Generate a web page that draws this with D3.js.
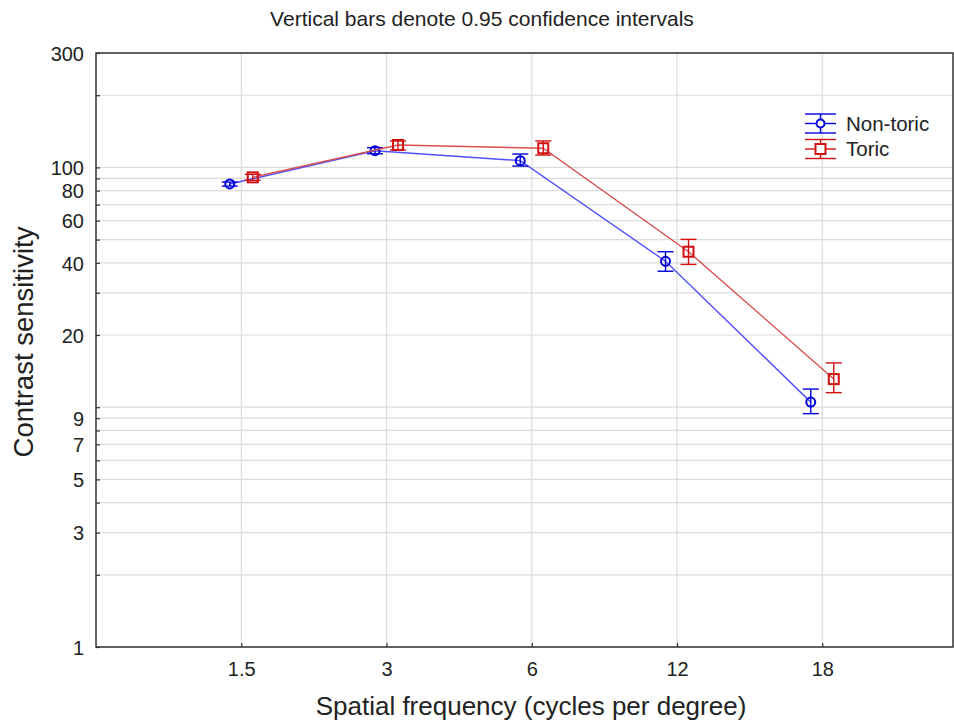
<!DOCTYPE html>
<html><head><meta charset="utf-8">
<script src="https://cdn.jsdelivr.net/npm/d3@7"></script>
<style>body{margin:0;background:#fff;}svg{display:block;font-family:"Liberation Sans",Arial,sans-serif;}</style>
</head><body><div id="chart"></div>
<script>
const categories = ["1.5","3","6","12","18"];
const nonToric = [85.3, 117.4, 106.7, 40.6, 10.5];
const nonToricLow = [83.6, 114.0, 101.3, 36.9, 9.4];
const nonToricHigh = [86.9, 120.9, 113.7, 44.5, 11.9];
const toric = [90.9, 124.0, 120.2, 44.5, 13.1];
const toricLow = [88.4, 118.2, 112.6, 39.4, 11.5];
const toricHigh = [93.6, 128.9, 128.9, 50.1, 15.3];
const yGrid = [1,2,3,4,5,6,7,8,9,10,20,30,40,50,60,70,80,90,100,200,300];
const yLabels = [1,3,5,7,9,20,40,60,80,100,300];
const seriesNames = ["Non-toric","Toric"];

(function(){
const W=954,H=721, pl=96, pr=953, pt=53, pb=647;
const svg=d3.select("#chart").append("svg").attr("width",W).attr("height",H);
const x=d3.scaleLinear().domain([0,5.9]).range([pl,pr]);
const y=d3.scaleLog().domain([1,300]).range([pb,pt]);

// grid
svg.append("g").selectAll("line").data(yGrid).join("line")
 .attr("x1",pl).attr("x2",pr).attr("y1",d=>y(d)).attr("y2",d=>y(d))
 .attr("stroke","#dcdcdc").attr("stroke-width",1.2);
svg.append("g").selectAll("line").data(categories).join("line")
 .attr("x1",(d,i)=>x(i+1)).attr("x2",(d,i)=>x(i+1)).attr("y1",pt).attr("y2",pb)
 .attr("stroke","#dcdcdc").attr("stroke-width",1.2);

// axes
const yAxis=d3.axisLeft(y).tickValues(yGrid).tickSize(-4).tickPadding(12)
 .tickFormat(d=>yLabels.includes(d)?String(d):"");
const gy=svg.append("g").attr("transform",`translate(${pl},0)`).call(yAxis);
const xAxis=d3.axisBottom(x).tickValues([1,2,3,4,5]).tickSize(-4).tickPadding(15)
 .tickFormat(d=>categories[d-1]);
const gx=svg.append("g").attr("transform",`translate(0,${pb})`).call(xAxis);
[gx,gy].forEach(g=>{
 g.select(".domain").remove();
 g.selectAll(".tick line").attr("stroke","#333").attr("stroke-width",1.2);
 g.selectAll("text").attr("font-size",20).attr("fill","#222").attr("font-family","Liberation Sans, Arial, sans-serif");
});
gy.selectAll("text").attr("dy","0.36em");
// frame
svg.append("rect").attr("x",pl).attr("y",pt).attr("width",pr-pl).attr("height",pb-pt)
 .attr("fill","none").attr("stroke","#333").attr("stroke-width",1.5);

// titles
svg.append("text").attr("x",482).attr("y",26).attr("text-anchor","middle").attr("font-size",21).attr("fill","#222")
 .text("Vertical bars denote 0.95 confidence intervals");
svg.append("text").attr("transform","translate(33,342) rotate(-90)").attr("text-anchor","middle").attr("font-size",27.5).attr("fill","#222")
 .text("Contrast sensitivity");
svg.append("text").attr("x",531).attr("y",715).attr("text-anchor","middle").attr("font-size",26).attr("fill","#222")
 .text("Spatial frequency (cycles per degree)");

const series=[
 {name:seriesNames[0],v:nonToric,lo:nonToricLow,hi:nonToricHigh,off:-11.5,line:"#5050ff",mark:"#0000dd",shape:"circle"},
 {name:seriesNames[1],v:toric,lo:toricLow,hi:toricHigh,off:11.5,line:"#d85050",mark:"#d01010",shape:"square"}
];
const line=d3.line();
series.forEach(s=>{
 const pts=s.v.map((v,i)=>[x(i+1)+s.off,y(v)]);
 svg.append("path").attr("d",line(pts)).attr("fill","none").attr("stroke",s.line).attr("stroke-width",1.4);
 const g=svg.append("g");
 s.v.forEach((v,i)=>{
  const cx=x(i+1)+s.off;
  g.append("line").attr("x1",cx).attr("x2",cx).attr("y1",y(s.lo[i])).attr("y2",y(s.hi[i])).attr("stroke",s.mark).attr("stroke-width",1.4);
  [s.lo[i],s.hi[i]].forEach(b=>g.append("line").attr("x1",cx-8).attr("x2",cx+8).attr("y1",y(b)).attr("y2",y(b)).attr("stroke",s.mark).attr("stroke-width",1.4));
  if(s.shape==="circle") g.append("circle").attr("cx",cx).attr("cy",y(v)).attr("r",4.5).attr("fill","none").attr("stroke",s.mark).attr("stroke-width",2);
  else g.append("rect").attr("x",cx-5).attr("y",y(v)-5).attr("width",10).attr("height",10).attr("fill","none").attr("stroke",s.mark).attr("stroke-width",2);
 });
});

// legend
const legY=[123.5,149];
series.forEach((s,k)=>{
 const cy=legY[k], cx=820.5;
 const g=svg.append("g");
 g.append("line").attr("x1",805).attr("x2",836).attr("y1",cy).attr("y2",cy).attr("stroke",s.mark).attr("stroke-width",1.4);
 g.append("line").attr("x1",805).attr("x2",836).attr("y1",cy-9.5).attr("y2",cy-9.5).attr("stroke",s.mark).attr("stroke-width",1.4);
 g.append("line").attr("x1",805).attr("x2",836).attr("y1",cy+9.5).attr("y2",cy+9.5).attr("stroke",s.mark).attr("stroke-width",1.4);
 g.append("line").attr("x1",cx).attr("x2",cx).attr("y1",cy-9.5).attr("y2",cy+9.5).attr("stroke",s.mark).attr("stroke-width",1.4);
 if(s.shape==="circle") g.append("circle").attr("cx",cx).attr("cy",cy).attr("r",4).attr("fill","#fff").attr("stroke",s.mark).attr("stroke-width",2);
 else g.append("rect").attr("x",cx-5).attr("y",cy-5).attr("width",10).attr("height",10).attr("fill","#fff").attr("stroke",s.mark).attr("stroke-width",2);
 g.append("text").attr("x",846).attr("y",cy+7).attr("font-size",20.5).attr("fill","#222").text(s.name);
});
})();
</script></body></html>
